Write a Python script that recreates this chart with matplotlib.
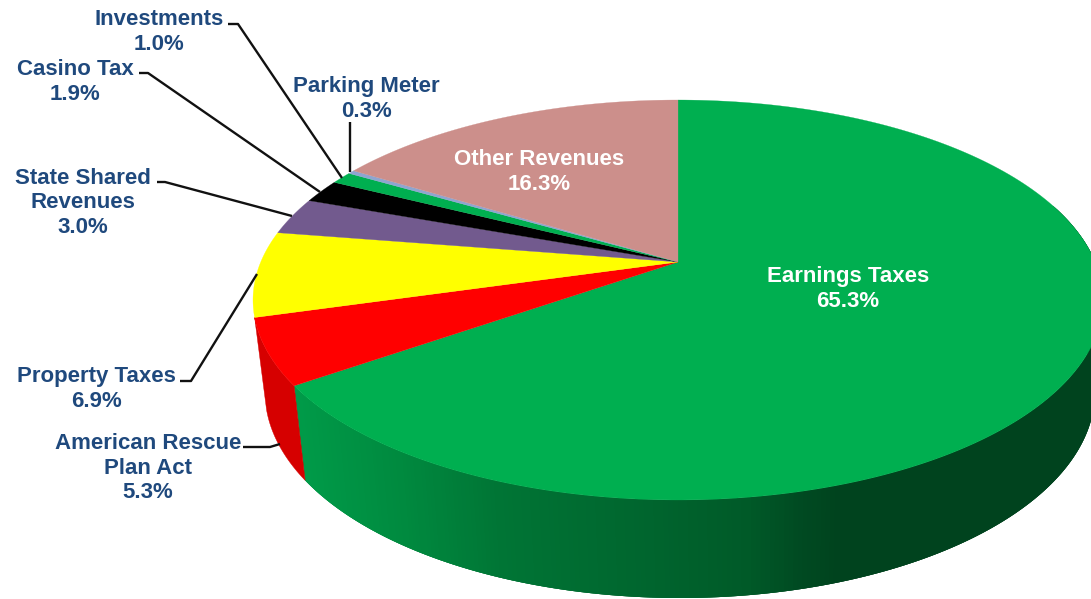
import numpy as np
import matplotlib as mpl
import matplotlib.pyplot as plt
###---3D pie, pixel coords---###

names = ["Earnings Taxes", "American Rescue\nPlan Act", "Property Taxes", "State Shared\nRevenues",
         "Casino Tax", "Investments", "Parking Meter", "Other Revenues"]
values = [65.3, 5.3, 6.9, 3.0, 1.9, 1.0, 0.3, 16.3]
colors = ["#00AF50", "#FF0000", "#FFFF00", "#725A8E", "#000000", "#00AF50", "#8EA5D0", "#CC8F8B"]

# centre of each label block
label_xy = [(848, 289), (148, 468), (96, 389), (83, 203), (75, 82), (159, 32), (366, 99), (539, 172)]
label_col = ["white", "#1F497D", "#1F497D", "#1F497D", "#1F497D", "#1F497D", "#1F497D", "white"]

leaders = [[(243, 447), (270, 447), (280, 444)],
           [(180, 381), (191, 381), (257, 274)],
           [(157, 182), (165, 182), (292, 216)],
           [(139, 73), (148, 73), (320, 192)],
           [(228, 24), (238, 24), (342, 178)],
           [(350, 122), (350, 172)]]

side_x = [300, 400, 500, 650, 750, 800, 840, 1091]
side_c = ["#009A48", "#008A3F", "#007535", "#00652E", "#005A28", "#004B22", "#00431E", "#00431E"]

plt.rcParams['font.family'] = ['Liberation Sans', 'DejaVu Sans']

top = (678, 300, 425, 200)
bot = (680, 392, 415, 206)
a = 0.19  # perspective shift of the pie centre


def rim(pct, e):
    # pct clockwise from 12 o'clock -> point on the ellipse
    t = np.radians(np.asarray(pct) * 3.6)
    u, v = np.sin(t), np.cos(t)
    d = 1 + a * v
    return e[0] + e[2] * u * np.sqrt(1 - a ** 2) / d, e[1] - e[3] * (v + a) / d


fig = plt.figure(figsize=(10.91, 5.99), dpi=100)
ax = fig.add_axes([0, 0, 1, 1], xlim=(0, 1091), ylim=(599, 0))
ax.axis("off")

edges = np.concatenate([[0], np.cumsum(values)])
cent = (top[0], top[1] - top[3] * a)

# sides, strips overlap so no seams show
rgb = mpl.colors.to_rgb
cols = np.array([rgb(c) for c in side_c])
p = np.linspace(20, edges[1], 300)
for i in range(len(p) - 1):
    q = p[i:i + 4]
    xt, yt = rim(q, top)
    xb, yb = rim(q, bot)
    xm = rim(p[i], top)[0]
    c = [np.interp(xm, side_x, cols[:, k]) for k in range(3)]
    ax.fill(np.r_[xt, xb[::-1]], np.r_[yt, yb[::-1]], color=c, lw=0)

q = np.linspace(edges[1], edges[2], 40)
xt, yt = rim(q, top)
xb, yb = rim(q, bot)
ax.fill(np.r_[xt, xb[::-1]], np.r_[yt, yb[::-1]], color="#D60000", lw=0.3)

# top face
for i, c in enumerate(colors):
    q = np.linspace(edges[i], edges[i + 1], 200)
    x, y = rim(q, top)
    ax.fill(np.r_[cent[0], x], np.r_[cent[1], y], color=c, lw=0.2)

for line in leaders:
    xs, ys = zip(*line)
    ax.plot(xs, ys, c="#111111", lw=1.7, solid_capstyle="butt")

for n, v, (x, y), c in zip(names, values, label_xy, label_col):
    ax.text(x, y, f"{n}\n{v:.1f}%", color=c, ha="center", va="center", fontsize=16.0,
            fontweight="bold", linespacing=1.2)

fig.savefig("out.png", dpi=100)
